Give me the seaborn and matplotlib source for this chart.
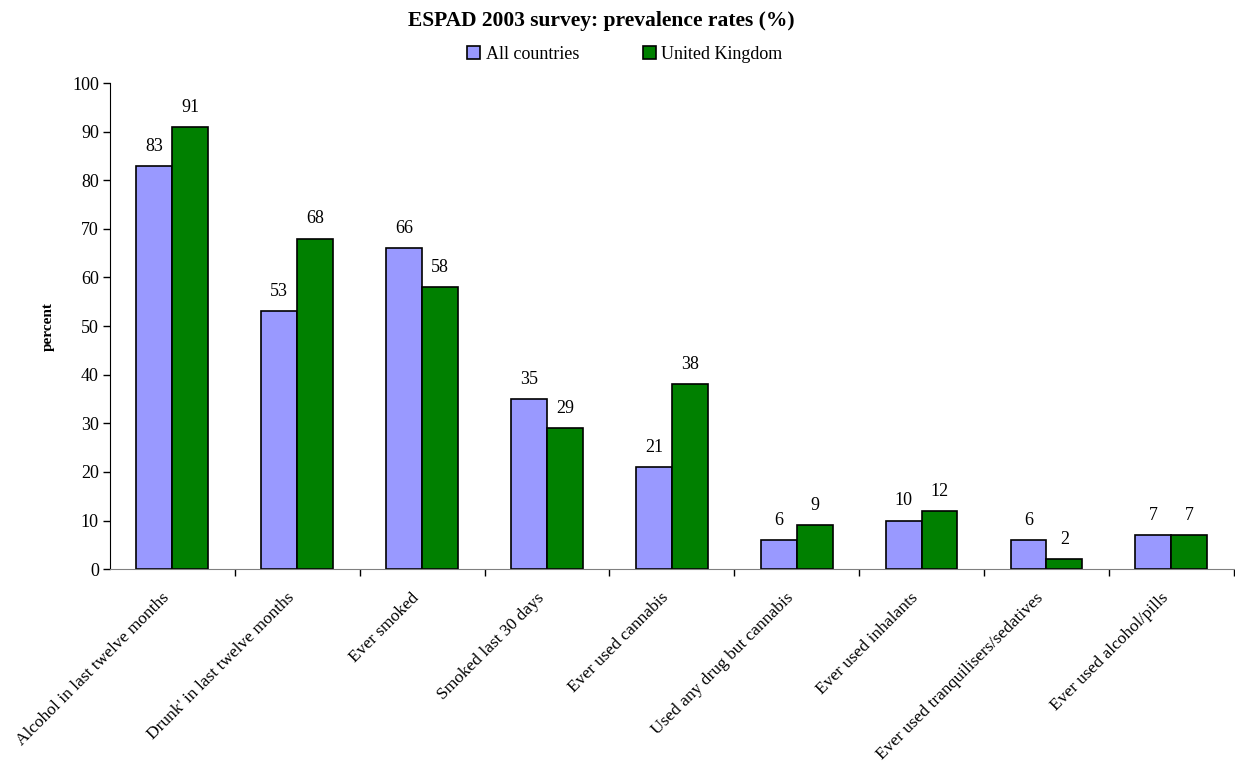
import numpy as np
import pandas as pd
import matplotlib
matplotlib.use("Agg")
import matplotlib.pyplot as plt
import matplotlib.transforms as mtransforms
import seaborn as sns

categories = ["Alcohol in last twelve months", "Drunk' in last twelve months",
              "Ever smoked", "Smoked last 30 days", "Ever used cannabis",
              "Used any drug but cannabis", "Ever used inhalants",
              "Ever used tranquilisers/sedatives", "Ever used alcohol/pills"]
all_countries = [83, 53, 66, 35, 21, 6, 10, 6, 7]
united_kingdom = [91, 68, 58, 29, 38, 9, 12, 2, 7]
series_names = ["All countries", "United Kingdom"]
y_ticks = [0, 10, 20, 30, 40, 50, 60, 70, 80, 90, 100]

df = pd.DataFrame({
    "category": categories * 2,
    "series": [series_names[0]] * len(categories) + [series_names[1]] * len(categories),
    "value": all_countries + united_kingdom,
})

sns.set_style("white")
plt.rcParams["font.family"] = ["Liberation Serif", "DejaVu Serif"]
plt.rcParams["text.color"] = "black"
plt.rcParams["axes.labelcolor"] = "black"
plt.rcParams["xtick.color"] = "black"
plt.rcParams["ytick.color"] = "black"

fig = plt.figure(figsize=(12.35, 7.65), dpi=100)
ax = fig.add_axes([0.089, 0.256, 0.91, 0.6355])

sns.barplot(data=df, x="category", y="value", hue="series", order=categories,
            hue_order=series_names, palette=["#9999ff", "#008000"],
            width=0.575, edgecolor="black", linewidth=1.2, saturation=1,
            ax=ax, legend=True)

# value labels above bars
for cont in ax.containers:
    ax.bar_label(cont, padding=8, fontsize=13, color="black")

ax.set_xlim(-0.5, len(categories) - 0.5)
ax.set_ylim(0, 100)
ax.set_yticks(y_ticks)
ax.tick_params(axis="y", labelsize=13, length=5, direction="out", left=True,
               width=1, pad=3)
ax.set_xticks(np.arange(len(categories)))
ax.set_xticklabels(categories, rotation=45, ha="right", rotation_mode="anchor",
                   fontsize=12.5)
ax.tick_params(axis="x", length=0, pad=15)
shift = mtransforms.ScaledTranslation(-11 / 100, 0, fig.dpi_scale_trans)
for lbl in ax.get_xticklabels():
    lbl.set_transform(lbl.get_transform() + shift)
ax.set_xticks(np.arange(len(categories)) + 0.5, minor=True)
ax.tick_params(axis="x", which="minor", length=5, direction="out", bottom=True,
               width=1)
ax.set_xlabel("")
ax.set_ylabel("percent", fontsize=11, fontweight="bold", labelpad=12)

for side in ["top", "right"]:
    ax.spines[side].set_visible(False)
ax.spines["left"].set_color("black")
ax.spines["bottom"].set_color("#808080")

handles, labels = ax.get_legend_handles_labels()
ax.legend_.remove()
fig.legend(handles, labels, loc="center", bbox_to_anchor=(0.506, 0.929),
           ncol=2, frameon=False, fontsize=13, handlelength=0.7,
           handleheight=0.7, handletextpad=0.3, columnspacing=3.55)

fig.text(0.487, 0.972, "ESPAD 2003 survey: prevalence rates (%)",
         ha="center", va="center", fontsize=15.5, fontweight="bold")

fig.savefig("out.png", dpi=100)
